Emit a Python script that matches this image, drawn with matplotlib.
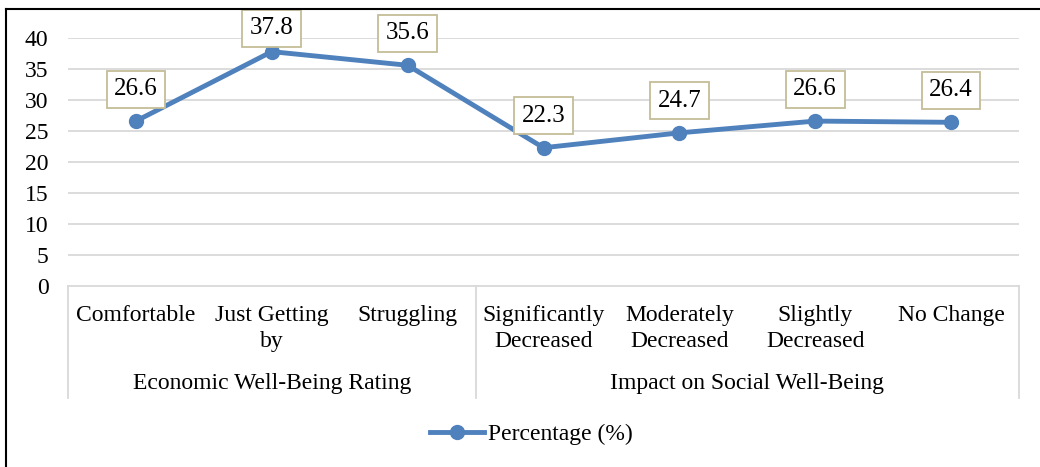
import matplotlib
matplotlib.use("Agg")
import matplotlib.pyplot as plt
from matplotlib.lines import Line2D

categories = ["Comfortable", "Just Getting\nby", "Struggling",
              "Significantly\nDecreased", "Moderately\nDecreased",
              "Slightly\nDecreased", "No Change"]
values = [26.6, 37.8, 35.6, 22.3, 24.7, 26.6, 26.4]
groups = ["Economic Well-Being Rating", "Impact on Social Well-Being"]
group_sizes = [3, 4]
yticks = [0, 5, 10, 15, 20, 25, 30, 35, 40]
series_name = "Percentage (%)"

plt.rcParams['font.family'] = ['Liberation Serif', 'DejaVu Serif']
FS = 17
W, H = 1040, 467
DPI = 100
fig = plt.figure(figsize=(W / DPI, H / DPI), dpi=DPI)

def fx(px):
    return px / W

def fy(py):
    return 1 - py / H

left, right, top, bottom = 68, 1019, 38, 286
ax = fig.add_axes([fx(left), fy(bottom), fx(right) - fx(left), fy(top) - fy(bottom)])

grid_c = "#D9D9D9"
line_c = "#4F81BD"
x = list(range(len(categories)))
ax.set_xlim(-0.5, len(categories) - 0.5)
ax.set_ylim(0, 40)
ax.set_yticks(yticks)
ax.set_yticklabels([str(t) for t in yticks], fontsize=FS)
ax.tick_params(axis='y', length=0, pad=14)
ax.set_xticks([])
for s in ax.spines.values():
    s.set_visible(False)
for t in yticks[1:]:
    ax.axhline(t, color=grid_c, lw=1.3, zorder=1)

ax.plot(x, values, color=line_c, lw=3.5, marker='o', markersize=10, zorder=3,
        solid_capstyle='round')

# data labels: above each point, kept inside the chart frame
for xi, v in zip(x, values):
    py = H - ax.transData.transform((xi, v))[1]  # pixel row of the point
    off_px = min(32, py - 28)
    ax.annotate(f"{v}", (xi, v), xytext=(0, off_px * 72 / DPI), textcoords='offset points',
                ha='center', va='center', fontsize=FS + 1,
                bbox=dict(boxstyle='square,pad=0.3', fc='white', ec='#C4BD97', lw=1.3),
                zorder=4)

trans = ax.get_xaxis_transform()
ax.plot([-0.5, len(categories) - 0.5], [0, 0], color=grid_c, lw=1.3,
        transform=trans, clip_on=False, zorder=2)
bounds = [-0.5]
acc = -0.5
for g in group_sizes:
    acc += g
    bounds.append(acc)

def ya(py):
    return (fy(py) - fy(bottom)) / (fy(top) - fy(bottom))

for b in bounds:
    ax.plot([b, b], [0, ya(398)], color=grid_c, lw=1.3,
            transform=trans, clip_on=False, zorder=2)

for xi, c in zip(x, categories):
    ax.text(xi, ya(305), c, transform=trans, ha='center', va='top', fontsize=FS,
            linespacing=1.3)

start = -0.5
for g, n in zip(groups, group_sizes):
    ax.text(start + n / 2, ya(384), g, transform=trans, ha='center', va='center',
            fontsize=FS)
    start += n

handle = Line2D([], [], color=line_c, lw=3.5, marker='o', markersize=10)
fig.legend([handle], [series_name], loc='center', bbox_to_anchor=(fx(531), fy(434)),
           frameon=False, fontsize=FS, handlelength=2.3, handletextpad=0.15)

fig.add_artist(Line2D([fx(6), fx(6)], [0, fy(9)], color='black', lw=1.5))
fig.add_artist(Line2D([fx(6), 1], [fy(9), fy(9)], color='black', lw=1.5))

fig.savefig("out.png", dpi=DPI)
